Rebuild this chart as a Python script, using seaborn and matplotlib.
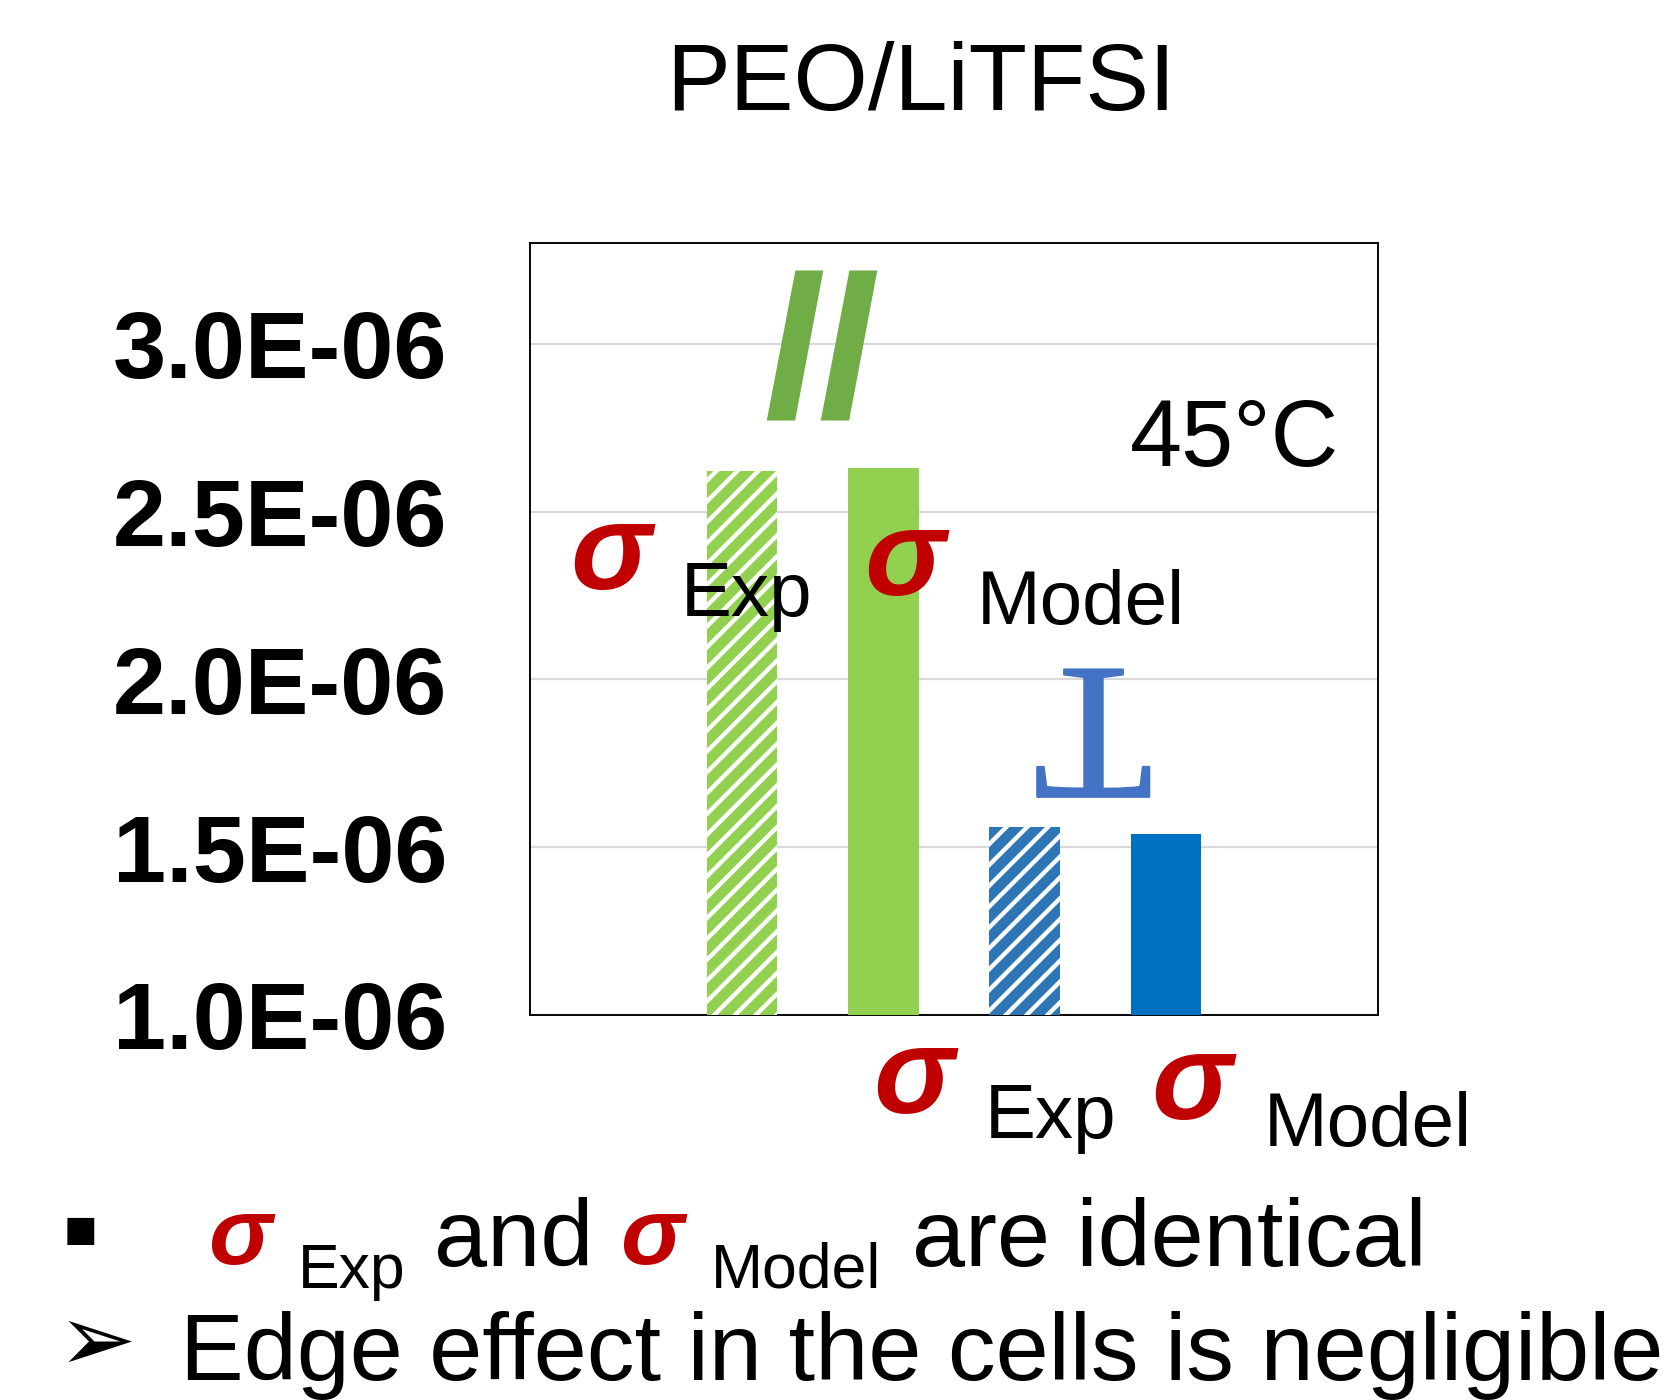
import numpy as np
import pandas as pd
import matplotlib.pyplot as plt
import matplotlib.patheffects as pe
import seaborn as sns

# values (S/cm at 45 C)
bar_names = ['Exp_PEO', 'Model_PEO', 'Exp_blue', 'Model_blue']
bar_values = [2.62e-6, 2.63e-6, 1.56e-6, 1.54e-6]
bar_colors = ['#92D050', '#92D050', '#2E75B6', '#0070C0']
bar_hatched = [True, False, True, False]
y_ticks = [1.0e-6, 1.5e-6, 2.0e-6, 2.5e-6, 3.0e-6]
y_ticklabels = ['1.0E-06', '1.5E-06', '2.0E-06', '2.5E-06', '3.0E-06']

sns.set_style('white')
plt.rcParams['font.family'] = ['Liberation Sans', 'DejaVu Sans']
plt.rcParams['text.color'] = 'black'
plt.rcParams['ytick.color'] = 'black'
plt.rcParams['hatch.linewidth'] = 2.5
plt.rcParams['mathtext.fontset'] = 'custom'
plt.rcParams['mathtext.rm'] = 'Liberation Serif'

W, H = 1679, 1400
DPI = 125
fig = plt.figure(figsize=(W / DPI, H / DPI), dpi=DPI)


def fx(x):
    return x / W


def fy(y):
    return 1 - y / H


ax = fig.add_axes([fx(530), fy(1015), (1378 - 530) / W, (1015 - 243) / H])

df = pd.DataFrame({'name': bar_names, 'value': bar_values})
sns.barplot(data=df, x='name', y='value', hue='name', palette=bar_colors,
            order=bar_names, hue_order=bar_names, width=0.5, legend=False,
            saturation=1, ax=ax, zorder=3)

for cont, hatched in zip(ax.containers, bar_hatched):
    for p in cont:
        p.set_linewidth(0)
        if hatched:
            p.set_hatch('//')
            p.set_edgecolor('white')

ax.set_xlim(-1.5, 4.5)
ax.set_ylim(1.0e-6, 3.3e-6)
ax.set_yticks(y_ticks)
ax.set_yticklabels(y_ticklabels, fontsize=55, fontweight='bold', color='black')
ax.set_xticks([])
ax.set_xlabel('')
ax.set_ylabel('')
ax.tick_params(axis='y', length=0, pad=47.5)
ax.grid(axis='y', color='#D9D9D9', linewidth=1.3, zorder=0)
ax.set_axisbelow(True)
for s in ax.spines.values():
    s.set_visible(True)
    s.set_color('black')
    s.set_linewidth(1.1)

red = '#C00000'
dark_green = '#70AD47'
blue_t = '#4472C4'

# title and annotations
fig.text(fx(921), fy(110), 'PEO/LiTFSI', fontsize=55, ha='center', va='baseline')
fig.text(fx(822), fy(414), '//', fontsize=112, fontweight='bold', color=dark_green,
         ha='center', va='baseline',
         path_effects=[pe.withStroke(linewidth=3, foreground=dark_green,
                                     joinstyle='miter', capstyle='butt')])
fig.text(fx(1339), fy(466), '45°C', fontsize=54, ha='right', va='baseline')
# upside-down serif T (perpendicular mark)
fig.text(fx(1094), fy(719), r'$\mathrm{T}$', fontsize=112,
         color=blue_t, rotation=180, ha='center', va='center',
         path_effects=[pe.withStroke(linewidth=1.2, foreground=blue_t)])

sig = dict(fontsize=70, fontweight='bold', fontstyle='italic', color=red, va='baseline')
sub = dict(fontsize=44, va='baseline')
fig.text(fx(570), fy(589), 'σ', **sig)
fig.text(fx(681), fy(616), 'Exp', **sub)
fig.text(fx(864), fy(595), 'σ', **sig)
fig.text(fx(977), fy(624), 'Model', **sub)
fig.text(fx(873), fy(1113), 'σ', **sig)
fig.text(fx(985), fy(1138), 'Exp', **sub)
fig.text(fx(1151), fy(1119), 'σ', **sig)
fig.text(fx(1264), fy(1146), 'Model', **sub)

# bottom conclusions
fig.text(fx(80), fy(1234), '■', fontsize=32, ha='center', va='center')
sig2 = dict(fontsize=55, fontweight='bold', fontstyle='italic', color=red, va='baseline')
fig.text(fx(208), fy(1264), 'σ', **sig2)
fig.text(fx(298), fy(1288), 'Exp', fontsize=36, va='baseline')
fig.text(fx(434), fy(1266), 'and', fontsize=55, va='baseline')
fig.text(fx(620), fy(1264), 'σ', **sig2)
fig.text(fx(711), fy(1288), 'Model', fontsize=36, va='baseline')
fig.text(fx(912), fy(1266), 'are identical', fontsize=55, va='baseline')
fig.text(fx(58), fy(1345), '➢', fontsize=54, ha='left', va='center',
         family=['DejaVu Sans'])
fig.text(fx(180), fy(1380), 'Edge effect in the cells is negligible', fontsize=55,
         va='baseline')

fig.savefig('out.png', dpi=DPI)
